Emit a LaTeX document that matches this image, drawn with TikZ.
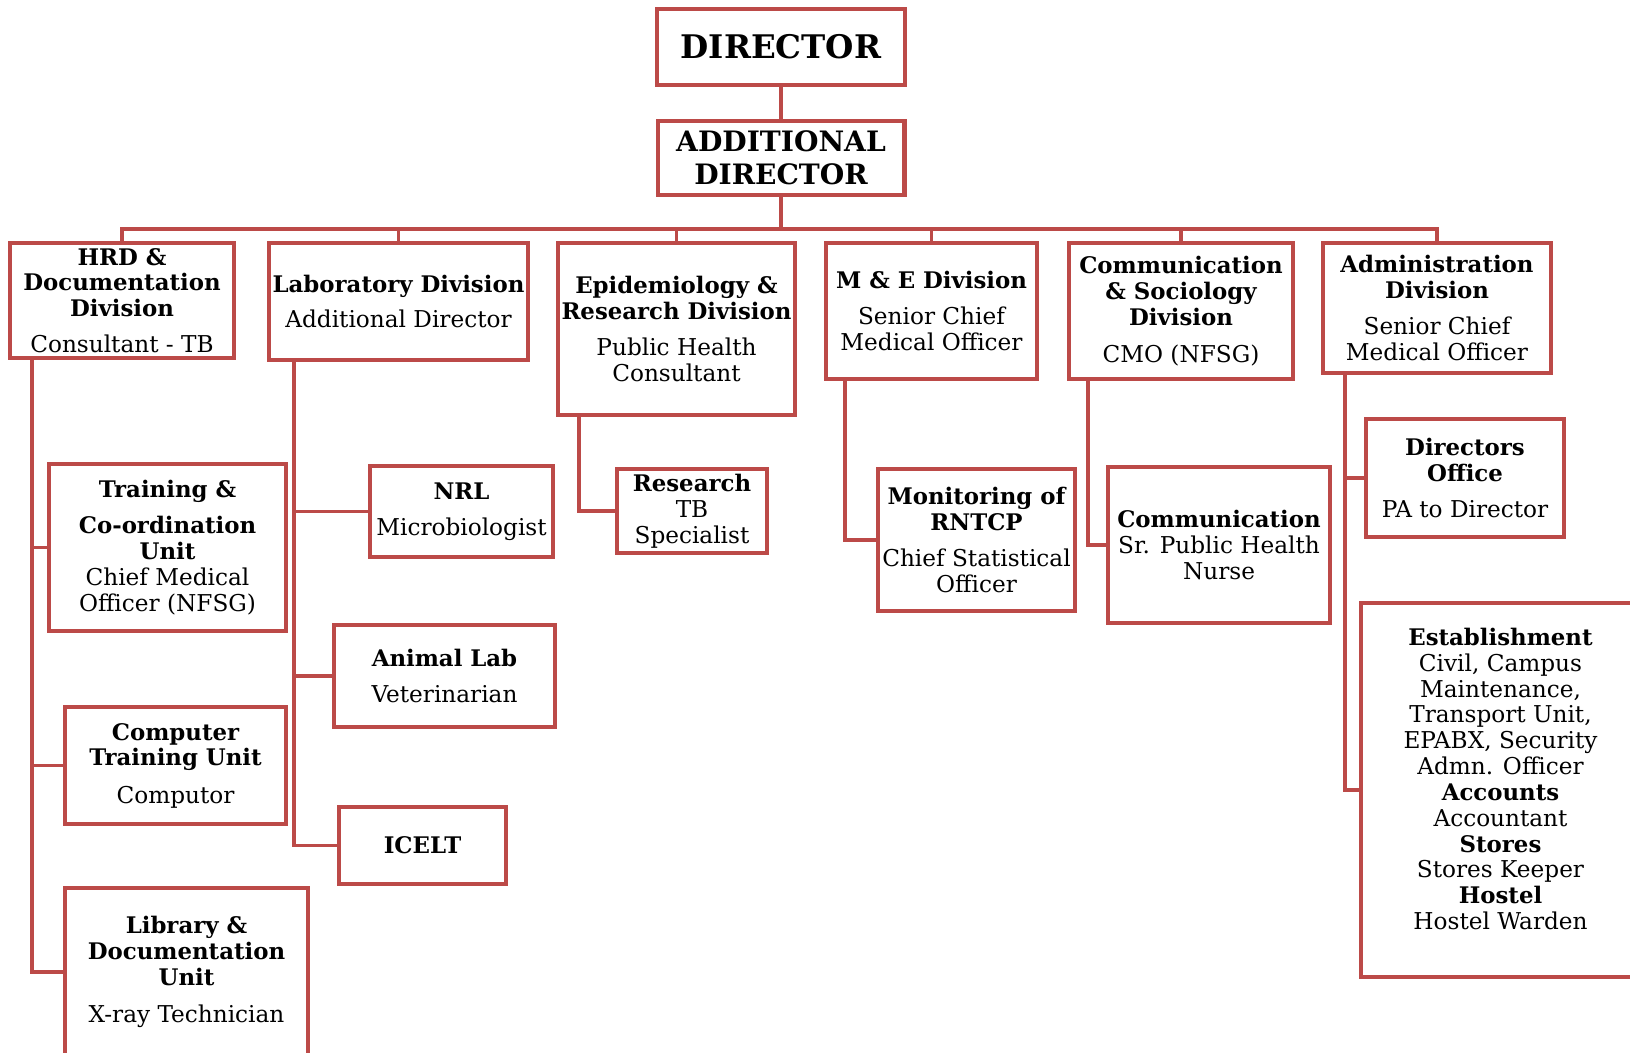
\documentclass[tikz,border=0pt]{standalone}
\usepackage{fontspec}
\setmainfont{DejaVu Serif}
\definecolor{orgred}{RGB}{188,74,72}
\newcommand{\hd}[1]{{\fontsize{13}{14.7}\selectfont\bfseries #1}}

\begin{document}
\begin{tikzpicture}[
    x=0.02cm, y=-0.02cm,
    box/.style={rectangle, draw=orgred, line width=2.3pt, fill=white, align=center, inner sep=2pt, font=\fontsize{13.2}{14.7}\selectfont},
    chief/.style={box, font=\bfseries\fontsize{16}{19}\selectfont},
    link/.style={draw=orgred, line width=2.1pt}
]
    \path[use as bounding box, fill=white] (0,0) rectangle (1630,1053);

    % Top of the chart
    \node[chief, font=\bfseries\fontsize{18.5}{21}\selectfont, minimum width=4.96cm, minimum height=1.52cm] (dir) at (781,47) {DIRECTOR};
    \node[chief, minimum width=4.94cm, minimum height=1.48cm] (adddir) at (781,158) {ADDITIONAL\\DIRECTOR};

    % --- Divisions ---
    \node[box, minimum width=4.48cm, minimum height=2.30cm] (hrd) at (122,300.5)
        {\hd{HRD \&}\\\hd{Documentation}\\\hd{Division}\\[5.7pt]Consultant - TB};
    \node[box, minimum width=5.18cm, minimum height=2.34cm] (lab) at (398.5,301.5)
        {\hd{Laboratory Division}\\[5.7pt]Additional Director};
    \node[box, minimum width=4.74cm, minimum height=3.44cm] (epi) at (676.5,329)
        {\hd{Epidemiology \&}\\\hd{Research Division}\\[5.7pt]Public Health\\Consultant};
    \node[box, minimum width=4.22cm, minimum height=2.72cm] (mne) at (931.5,311)
        {\hd{M \& E Division}\\[5.7pt]Senior Chief\\Medical Officer};
    \node[box, minimum width=4.48cm, minimum height=2.72cm] (comm) at (1181,311)
        {\hd{Communication}\\\hd{\& Sociology}\\\hd{Division}\\[6.5pt]CMO (NFSG)};
    \node[box, minimum width=4.56cm, minimum height=2.60cm] (admin) at (1437,308)
        {\hd{Administration}\\\hd{Division}\\[5.7pt]Senior Chief\\Medical Officer};

    % --- Units under HRD ---
    \node[box, minimum width=4.74cm, minimum height=3.34cm] (train) at (167.5,547.5)
        {\hd{Training \&}\\[5.7pt]\hd{Co-ordination}\\\hd{Unit}\\Chief Medical\\Officer (NFSG)};
    \node[box, minimum width=4.42cm, minimum height=2.34cm] (comp) at (175.5,765.5)
        {\hd{Computer}\\\hd{Training Unit}\\[6.5pt]Computor};
    \node[box, minimum width=4.86cm, minimum height=3.36cm] (lib) at (186.5,972)
        {\hd{Library \&}\\\hd{Documentation}\\\hd{Unit}\\[6.5pt]X-ray Technician};

    % --- Units under Laboratory ---
    \node[box, minimum width=3.66cm, minimum height=1.82cm] (nrl) at (461.5,511.5)
        {\hd{NRL}\\[5.7pt]Microbiologist};
    \node[box, minimum width=4.42cm, minimum height=2.04cm] (animal) at (444.5,676)
        {\hd{Animal Lab}\\[5.7pt]Veterinarian};
    \node[box, minimum width=3.34cm, minimum height=1.54cm] (icelt) at (422.5,845.5)
        {\hd{ICELT}};

    % --- Other units ---
    \node[box, minimum width=3.00cm, minimum height=1.68cm] (research) at (692,511)
        {\hd{Research}\\TB\\Specialist};
    \node[box, minimum width=3.94cm, minimum height=2.84cm] (mon) at (976.5,540)
        {\hd{Monitoring of}\\\hd{RNTCP}\\[5.7pt]Chief Statistical\\Officer};
    \node[box, minimum width=4.44cm, minimum height=3.12cm] (commu) at (1219,545)
        {\hd{Communication}\\Sr. Public Health\\Nurse};
    \node[box, minimum width=3.96cm, minimum height=2.36cm] (diroff) at (1465,478)
        {\hd{Directors}\\\hd{Office}\\[5.7pt]PA to Director};
    \node[box, minimum width=5.58cm, minimum height=7.50cm] (estab) at (1500.5,790)
        {\hd{Establishment}\\Civil, Campus\\Maintenance,\\Transport Unit,\\EPABX, Security\\Admn. Officer\\
         \hd{Accounts}\\Accountant\\\hd{Stores}\\Stores Keeper\\\hd{Hostel}\\Hostel Warden\\[-2pt]\mbox{}};

    % Director to divisions
    \coordinate (bus) at (0,229);
    \draw[link] (dir) -- (adddir);
    \draw[link] (adddir.south) -- (adddir.south |- bus);
    \draw[link] (hrd.north) -- (hrd.north |- bus) -- (admin.north |- bus) -- (admin.north);
    \foreach \d in {lab, epi, mne, comm}
        \draw[link] (\d.north) -- (\d.north |- bus);

    % Divisions to units
    \coordinate (hrdtr) at ([xshift=0.48cm]hrd.south west);
    \draw[link] (hrdtr) |- (lib.west);
    \foreach \n in {train, comp}
        \draw[link] (hrdtr |- \n.west) -- (\n.west);

    \coordinate (labtr) at ([xshift=0.54cm]lab.south west);
    \draw[link] (labtr) |- (icelt.west);
    \foreach \n in {nrl, animal}
        \draw[link] (labtr |- \n.west) -- (\n.west);

    \draw[link] ([xshift=0.46cm]epi.south west) |- (research.west);
    \draw[link] ([xshift=0.42cm]mne.south west) |- (mon.west);
    \draw[link] ([xshift=0.42cm]comm.south west) |- (commu.west);

    \coordinate (admtr) at ([xshift=0.48cm]admin.south west);
    \draw[link] (admtr) |- (estab.west);
    \draw[link] (admtr |- diroff.west) -- (diroff.west);

\end{tikzpicture}
\end{document}
